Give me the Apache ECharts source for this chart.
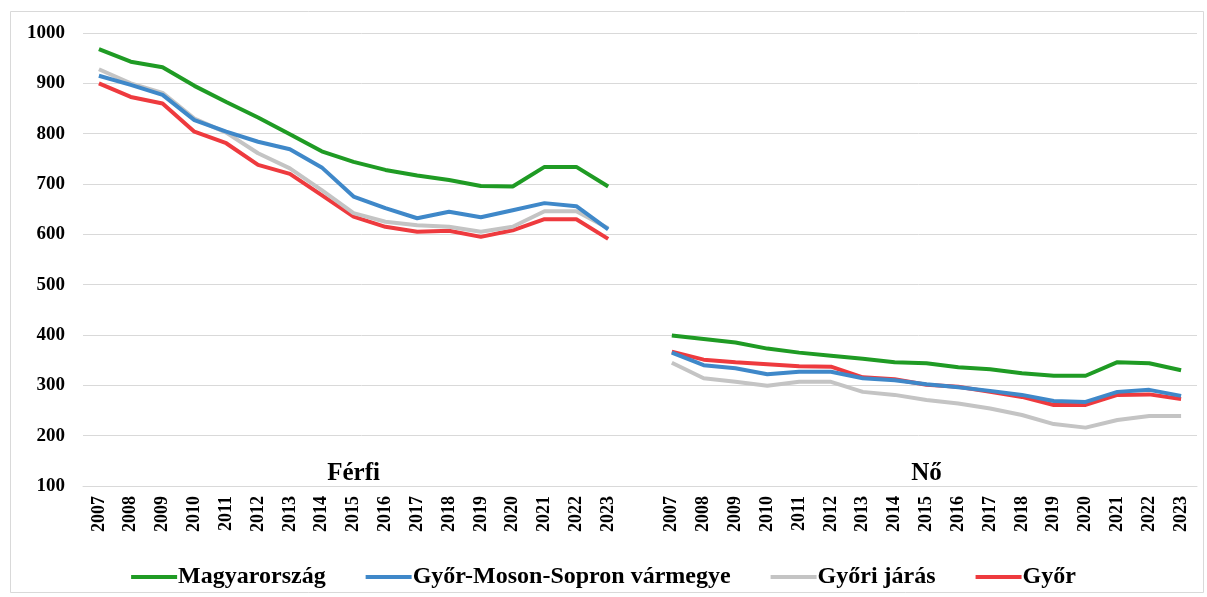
<!DOCTYPE html>
<html>
<head>
<meta charset="utf-8">
<script src="https://cdn.jsdelivr.net/npm/echarts@6/dist/echarts.min.js"></script>
<style>html,body{margin:0;padding:0;background:#fff}#c{width:1207px;height:597px}</style>
</head>
<body>
<div id="c"></div>
<script>
var years = ['2007','2008','2009','2010','2011','2012','2013','2014','2015','2016','2017','2018','2019','2020','2021','2022','2023'];
var groupLabels = ['Férfi', 'Nő'];
var seriesNames = ['Magyarország', 'Győr-Moson-Sopron vármegye', 'Győri járás', 'Győr'];
var colors = ['#1f9b24', '#3f88c9', '#c4c4c4', '#ee3a3e'];

// Férfi
var ferfiMagyar = [968, 943, 932, 895, 863, 832, 799, 765, 744, 728, 717, 708, 696, 695, 734, 734, 695];
var ferfiMegye  = [915, 897, 877, 827, 804, 784, 769, 733, 675, 652, 632, 645, 634, 648, 662, 656, 610];
var ferfiJaras  = [928, 900, 881, 830, 802, 761, 731, 688, 642, 625, 618, 615, 605, 615, 646, 646, 612];
var ferfiGyor   = [900, 873, 860, 804, 781, 738, 720, 678, 635, 615, 605, 607, 595, 608, 630, 630, 591];
// Nő
var noMagyar = [399, 392, 385, 373, 365, 359, 353, 346, 344, 336, 332, 324, 319, 319, 346, 344, 330];
var noMegye  = [365, 340, 334, 322, 327, 327, 314, 310, 302, 296, 289, 281, 269, 267, 287, 291, 279];
var noJaras  = [345, 314, 307, 299, 307, 307, 287, 281, 271, 264, 254, 241, 223, 216, 231, 239, 239];
var noGyor   = [367, 351, 346, 342, 338, 337, 316, 312, 301, 297, 287, 277, 261, 261, 281, 282, 273];

var yTicks = [100, 200, 300, 400, 500, 600, 700, 800, 900, 1000];

var categories = years.concat(['']).concat(years);
function join(a, b) { return a.concat([null]).concat(b); }
var seriesData = [
  join(ferfiMagyar, noMagyar),
  join(ferfiMegye, noMegye),
  join(ferfiJaras, noJaras),
  join(ferfiGyor, noGyor)
];

var font = '"Liberation Serif", "Times New Roman", serif';
var chart = echarts.init(document.getElementById('c'));
var option = {
  animation: false,
  backgroundColor: '#fff',
  grid: { left: 83, right: 10, top: 33, bottom: 111, containLabel: false },
  xAxis: {
    type: 'category',
    data: categories,
    boundaryGap: true,
    axisLine: { show: true, lineStyle: { color: '#d9d9d9', width: 1 } },
    axisTick: { show: false },
    axisLabel: { rotate: 90, interval: 0, margin: 10, color: '#000', fontFamily: font, fontWeight: 'bold', fontSize: 18 }
  },
  yAxis: {
    type: 'value',
    min: yTicks[0],
    max: yTicks[yTicks.length - 1],
    interval: 100,
    axisLine: { show: false },
    axisTick: { show: false },
    splitLine: { lineStyle: { color: '#d9d9d9', width: 1 } },
    axisLabel: { margin: 18, color: '#000', fontFamily: font, fontWeight: 'bold', fontSize: 19, formatter: function (v) { return String(v); } }
  },
  legend: {
    bottom: 3,
    left: 'center',
    itemWidth: 46,
    itemHeight: 4,
    itemGap: 40,
    icon: 'rect',
    textStyle: { color: '#000', fontFamily: font, fontWeight: 'bold', fontSize: 24, padding: [0, 0, 0, -4] },
    data: seriesNames
  },
  series: seriesNames.map(function (n, i) {
    return {
      name: n,
      type: 'line',
      data: seriesData[i],
      connectNulls: false,
      showSymbol: false,
      symbol: 'none',
      color: colors[i],
      lineStyle: { width: 4, color: colors[i] },
      z: 10 - i
    };
  })
};
chart.setOption(option);

var p1 = chart.convertToPixel({ gridIndex: 0 }, [8, 100]);
var p2 = chart.convertToPixel({ gridIndex: 0 }, [26, 100]);
chart.setOption({
  graphic: [
    { type: 'rect', shape: { x: 10.5, y: 11.5, width: 1193, height: 581 }, style: { fill: 'none', stroke: '#d9d9d9', lineWidth: 1 }, silent: true, z: -10 },
    { type: 'text', x: p1[0], y: p1[1] - 12, style: { text: groupLabels[0], font: 'bold 25px ' + font, fill: '#000', align: 'center', verticalAlign: 'middle' } },
    { type: 'text', x: p2[0], y: p2[1] - 12, style: { text: groupLabels[1], font: 'bold 25px ' + font, fill: '#000', align: 'center', verticalAlign: 'middle' } }
  ]
});
</script>
</body>
</html>
